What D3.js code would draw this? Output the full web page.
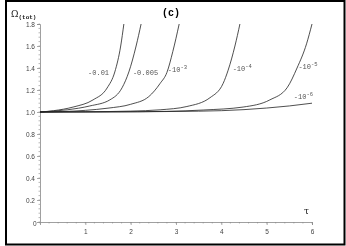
<!DOCTYPE html>
<html>
<head>
<meta charset="utf-8">
<script src="https://cdn.jsdelivr.net/npm/d3@7"></script>
<style>
  body { margin: 0; background: #fff; }
  svg { filter: grayscale(1); }
  svg text { font-family: "DejaVu Sans", sans-serif; }
</style>
</head>
<body>
<div id="chart"></div>
<script>
// curve labels (initial Omega_k)
var curveNames = ["-0.01", "-0.005", "-10^-3", "-10^-4", "-10^-5", "-10^-6"];
// tau values, one array per curve
var tauValues = [
  [0, 0.3, 0.73, 1.17, 1.48, 1.65, 1.78, 1.85],
  [0, 0.6, 1.1, 1.54, 1.81, 1.96, 2.12, 2.23],
  [0, 0.5, 1.0, 1.5, 2.0, 2.4, 2.65, 2.8, 2.93, 3.07],
  [0, 1.0, 2.0, 2.65, 3.24, 3.75, 4.04, 4.15, 4.3, 4.41],
  [0, 1.5, 2.8, 3.6, 4.48, 5.07, 5.45, 5.67, 5.88, 6.0],
  [0, 1.5, 3.0, 4.0, 5.0, 5.5, 6.0]
];
var omegaValues = [
  [1.0, 1.012, 1.045, 1.11, 1.218, 1.364, 1.6, 1.8],
  [1.0, 1.02, 1.055, 1.11, 1.22, 1.364, 1.6, 1.8],
  [1.0, 1.004, 1.015, 1.035, 1.07, 1.14, 1.26, 1.36, 1.55, 1.8],
  [1.0, 1.002, 1.008, 1.02, 1.05, 1.13, 1.26, 1.38, 1.6, 1.8],
  [1.0, 1.001, 1.006, 1.018, 1.045, 1.11, 1.22, 1.4, 1.62, 1.8],
  [1.0, 1.001, 1.005, 1.012, 1.036, 1.055, 1.08]
];
// label anchor points [tau, omega]
var labelTau = [1.06, 2.05, 2.82, 4.25, 5.7, 5.6];
var labelOmega = [1.34, 1.34, 1.36, 1.37, 1.39, 1.12];

var xTicks = [1, 2, 3, 4, 5, 6];
var yTicks = [0.2, 0.4, 0.6, 0.8, 1.0, 1.2, 1.4, 1.6, 1.8];

var W = 346, H = 246;
var svg = d3.select("#chart").append("svg").attr("width", W).attr("height", H);

// outer frame
svg.append("rect")
  .attr("x", 6).attr("y", 1).attr("width", 338.5).attr("height", 243.5)
  .attr("fill", "none").attr("stroke", "#000").attr("stroke-width", 2);

var x = d3.scaleLinear().domain([0, 6]).range([40, 312]);
var y = d3.scaleLinear().domain([0, 1.8]).range([222, 24]);

var axisColor = "#888";

// y axis
var yAxis = svg.append("g").attr("transform", "translate(" + x(0) + ",0)")
  .call(d3.axisLeft(y).tickValues(yTicks).tickSize(3)
    .tickFormat(function (d) { return d3.format(".1f")(d); }));
// minor y ticks
svg.append("g").selectAll("line")
  .data(d3.range(0, 1.801, 0.04))
  .enter().append("line")
  .attr("x1", x(0) - 1.5).attr("x2", x(0))
  .attr("y1", function (d) { return y(d); }).attr("y2", function (d) { return y(d); })
  .attr("stroke", axisColor).attr("stroke-width", 0.6);

// x axis
var xAxis = svg.append("g").attr("transform", "translate(0," + y(0) + ")")
  .call(d3.axisBottom(x).tickValues(xTicks).tickSize(3).tickFormat(d3.format("d")));
svg.append("g").selectAll("line")
  .data(d3.range(0, 6.001, 0.2))
  .enter().append("line")
  .attr("x1", function (d) { return x(d); }).attr("x2", function (d) { return x(d); })
  .attr("y1", y(0)).attr("y2", y(0) + 1.5)
  .attr("stroke", axisColor).attr("stroke-width", 0.6);

[yAxis, xAxis].forEach(function (g) {
  g.select(".domain").attr("stroke", axisColor).attr("stroke-width", 0.8);
  g.selectAll(".tick line").attr("stroke", axisColor).attr("stroke-width", 0.7);
  g.selectAll(".tick text").attr("fill", "#444").style("font-size", "6.5px")
    .style("font-family", "'Liberation Sans', sans-serif");
});
xAxis.selectAll(".tick text").attr("dy", "0.9em");
yAxis.selectAll(".tick text").attr("x", -5);

// shared origin label
svg.append("text").attr("x", x(0) - 7).attr("y", y(0) + 4)
  .attr("fill", "#444").style("font-size", "6.5px")
  .style("font-family", "'Liberation Sans', sans-serif").text("0");

// curves
var line = d3.line()
  .x(function (d) { return x(d[0]); })
  .y(function (d) { return y(d[1]); })
  .curve(d3.curveMonotoneX);

curveNames.forEach(function (name, i) {
  var pts = tauValues[i].map(function (t, j) { return [t, omegaValues[i][j]]; });
  svg.append("path").datum(pts)
    .attr("d", line)
    .attr("fill", "none").attr("stroke", "#222").attr("stroke-width", 0.8);
});

// curve labels
curveNames.forEach(function (name, i) {
  var t = svg.append("text")
    .attr("x", x(labelTau[i])).attr("y", y(labelOmega[i]))
    .attr("fill", "#555")
    .style("font-family", "'Liberation Mono', monospace")
    .style("font-size", "7px");
  var parts = name.split("^");
  t.append("tspan").text(parts[0]);
  if (parts.length > 1) {
    t.append("tspan").attr("dy", -3).style("font-size", "5.5px").text(parts[1]);
  }
});

// axis titles
var yl = svg.append("text").attr("x", 11).attr("y", 17).attr("fill", "#222");
yl.append("tspan").style("font-size", "9px").style("font-family", "'DejaVu Serif', serif").text("Ω");
yl.append("tspan").attr("dy", 2).style("font-size", "6px")
  .style("font-family", "'Liberation Mono', monospace").style("font-weight", "bold").text("(tot)");

svg.append("text").attr("x", 304).attr("y", 214).attr("fill", "#222")
  .style("font-size", "9px").style("font-family", "'DejaVu Serif', serif").text("τ");

// panel title
svg.append("text").attr("x", 171).attr("y", 16).attr("text-anchor", "middle")
  .attr("fill", "#000").style("font-size", "10px").style("font-weight", "bold")
  .style("font-family", "'Liberation Mono', monospace").text("(c)");
</script>
</body>
</html>
